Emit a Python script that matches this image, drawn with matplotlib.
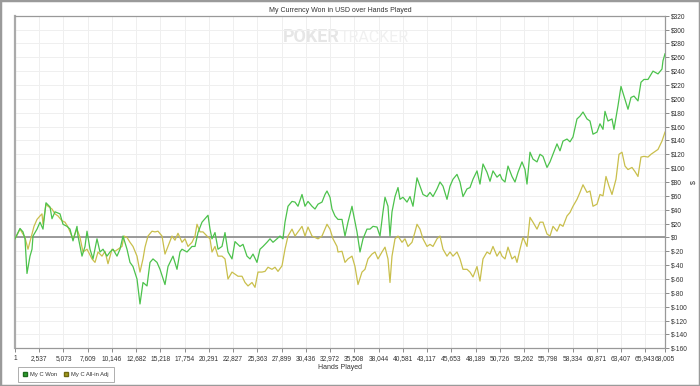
import matplotlib
matplotlib.use("Agg")
import matplotlib.pyplot as plt
from matplotlib.patches import Patch, Rectangle
from matplotlib.ticker import FuncFormatter

# Series (hands played, USD)
won_hands = [1, 524, 838, 1047, 1256, 1570, 1780, 1884, 2303, 2617, 2930, 3244,
             3663, 3872, 4186, 4709, 5023, 5441, 5755, 6069, 6487, 6592, 7011,
             7324, 7534, 7848, 8161, 8580, 8894, 9208, 9626, 9940, 10254, 10672,
             10986, 11300, 11718, 12032, 12346, 12765, 13078, 13392, 13811,
             14125, 14439, 14857, 15171, 15694, 16008, 16531, 16949, 17263,
             17473, 17996, 18519, 18833, 19146, 19565, 19879, 20193, 20402,
             20611, 20925, 21239, 21657, 21971, 22285, 22704, 23017, 23541,
             23855, 24273, 24587, 24901, 25319, 25633, 25947, 26365, 26679,
             26993, 27411, 27725, 28039, 28248, 28562, 28981, 29295, 29608,
             30027, 30341, 30655, 31073, 31387, 31701, 32119, 32433, 32642,
             32956, 33166, 33479, 33793, 34212, 34526, 34839, 35258, 35363,
             35781, 36095, 36409, 36827, 37141, 37455, 37874, 38187, 38501,
             38711, 39024, 39234, 39443, 39757, 40071, 40280, 40594, 41013,
             41326, 41640, 42059, 42372, 42686, 43105, 43418, 43732, 44151,
             44465, 44778, 45197, 45511, 45825, 46243, 46557, 46871, 47289,
             47603, 47917, 48335, 48649, 48963, 49382, 49696, 50009, 50428,
             50742, 50951, 51265, 51579, 51997, 52311, 52625, 53044, 53357,
             53567, 53880, 54194, 54613, 54927, 55240, 55659, 55973, 56287,
             56705, 57019, 57333, 57751, 58065, 58379, 58797, 59111, 59425,
             59844, 60157, 60471, 60890, 61204, 61518, 61727, 62041, 62459,
             62668, 63087, 63401, 63715, 64133, 64447, 64761, 65179, 65493,
             65807, 66225, 66748, 67272, 67690, 67795, 68005]
won_usd = [-2, 13, 8, -2, -52, -27, -17, 2, 12, 22, 12, 50,
           44, 27, 37, 34, 19, 16, 12, -5, 16, 2, -27,
           -13, 9, -17, -31, -2, -21, -17, -27, -21, -17, -27,
           -17, 2, -17, -36, -42, -60, -96, -65, -70,
           -36, -31, -36, -46, -68, -42, -27, -46, -21,
           -17, -21, -13, -13, 7, 22, 27, 32, 12,
           -2, 7, -17, -13, 7, -21, -31, -6, -13,
           -10, -27, -31, -24, -36, -17, -13, -7, -2,
           -7, -2, 2, -2, 22, 45, 52, 51, 45,
           62, 45, 52, 45, 41, 48, 51, 62, 67,
           58, 41, 31, 26, 26, 2, 22, 45, 37,
           8, -21, -2, 12, 12, 16, 15, 2, 37,
           58, 45, 2, 37, 59, 72, 55, 58, 51,
           59, 45, 86, 74, 62, 59, 65, 59, 70,
           80, 74, 55, 74, 84, 91, 80, 59, 70,
           72, 84, 96, 77, 106, 94, 81, 96, 87,
           91, 84, 80, 103, 88, 80, 94, 109, 98,
           77, 123, 113, 109, 120, 117, 101, 109, 120,
           135, 125, 139, 142, 138, 145, 171, 175, 181,
           171, 168, 149, 152, 164, 156, 182, 168, 171,
           156, 190, 218, 204, 185, 202, 204, 197, 224,
           228, 228, 240, 236, 243, 255, 265]

adj_hands = [1, 524, 1047, 1361, 1780, 1989, 2303, 2617, 2826, 2930, 3244, 3454,
             3872, 4186, 4500, 4918, 5232, 5546, 6069, 6487, 6801, 7115, 7534,
             8057, 8371, 8685, 9103, 9417, 9731, 10149, 10463, 10777, 11195,
             11405, 11718, 12032, 12346, 12765, 13078, 13392, 13602, 13915,
             14334, 14648, 14962, 15380, 15694, 16008, 16426, 16740, 17054,
             17473, 17786, 18100, 18519, 18833, 19042, 19356, 19670, 20088,
             20402, 20611, 20925, 21239, 21657, 21971, 22285, 22704, 23017,
             23331, 23750, 24064, 24378, 24796, 25110, 25424, 25842, 26156,
             26470, 26889, 27202, 27516, 27935, 28248, 28562, 28981, 29295,
             29608, 30027, 30341, 30655, 31073, 31387, 31701, 32119, 32642,
             32956, 33270, 33688, 33793, 34212, 34526, 34839, 35258, 35572,
             35886, 36304, 36618, 36932, 37350, 37664, 37978, 38396, 38711,
             39024, 39234, 39443, 39757, 40071, 40490, 40803, 41117, 41536,
             41850, 42059, 42372, 42686, 43105, 43418, 43732, 44151, 44465,
             44778, 45197, 45511, 45825, 46243, 46557, 46871, 47289, 47603,
             47917, 48335, 48649, 48963, 49382, 49696, 50009, 50428, 50742,
             50951, 51265, 51579, 51997, 52311, 52520, 52834, 53148, 53567,
             53880, 54194, 54613, 54927, 55240, 55659, 55973, 56287, 56705,
             57019, 57333, 57751, 58065, 58379, 58797, 59111, 59425, 59844,
             60157, 60471, 60890, 61204, 61518, 61832, 62146, 62459, 62878,
             63192, 63506, 63820, 64133, 64552, 64866, 65179, 65493, 65807,
             66225, 66539, 67272, 67690, 68005]
adj_usd = [-2, 12, 0, -17, 5, 16, 26, 31, 34, 19, 48, 45,
           41, 34, 31, 24, 22, 15, -2, 12, 0, -21, -17,
           -31, -36, -21, -27, -20, -38, -17, -20, -17, -13,
           2, 0, -7, -13, -27, -50, -31, -14, 2,
           9, 8, 9, 2, -24, -13, 2, -4, 6,
           -7, -2, -13, -7, 2, 19, 8, 8, 2,
           -2, -21, -13, -27, -27, -31, -60, -50, -53,
           -56, -56, -65, -70, -65, -72, -50, -50, -49,
           -43, -46, -43, -49, -41, -17, 2, 12, 2,
           8, 16, 2, 15, 2, 0, -2, 2, 19,
           12, -2, -13, -21, -20, -36, -31, -27, -42,
           -68, -50, -46, -31, -24, -21, -31, -21, -14,
           -31, -65, -27, -2, 2, -7, -2, -13, -7,
           8, 19, 12, -2, -13, -10, -13, -2, 2,
           -17, -27, -21, -27, -21, -31, -46, -46, -50,
           -57, -42, -63, -31, -21, -24, -13, -27, -20,
           -27, -31, -14, -31, -27, -36, -17, 0, -13,
           29, 22, 12, 22, 22, 5, 2, 16, 9,
           19, 16, 31, 36, 45, 55, 65, 76, 65,
           67, 45, 48, 62, 60, 88, 74, 62, 84,
           120, 123, 103, 98, 101, 95, 88, 116, 117,
           116, 120, 127, 139, 152]

x_ticks = [1, 2537, 5073, 7609, 10146, 12682, 15218, 17754, 20291, 22827,
           25363, 27899, 30436, 32972, 35508, 38044, 40581, 43117, 45653,
           48189, 50726, 53262, 55798, 58334, 60871, 63407, 65943, 68005]
y_ticks = list(range(-160, 321, 20))

green = '#4cc24c'
olive = '#c9bf4c'
txt = '#333333'

plt.rcParams['font.family'] = ['Liberation Sans', 'DejaVu Sans']

fig = plt.figure(figsize=(7.0, 3.86), dpi=100)
fig.patches.append(Rectangle((0, 0), 1, 1, transform=fig.transFigure,
                             fill=False, edgecolor='#9a9a9a', linewidth=2.5))

ax = fig.add_axes([15 / 700, 37.7 / 386, 650 / 700, 332.6 / 386])
ax.plot(adj_hands, adj_usd, color=olive, linewidth=0.9, zorder=3)
ax.plot(won_hands, won_usd, color=green, linewidth=0.9, zorder=4)
ax.axhline(0, color='#8a8a8a', linewidth=1.2, zorder=2)

ax.set_xlim(1, 68005)
ax.set_ylim(-160, 320)
ax.set_xticks(x_ticks)
ax.xaxis.set_major_formatter(FuncFormatter(lambda v, p: f'{int(round(v)):,}'))
ax.set_yticks(y_ticks)
ax.yaxis.set_major_formatter(FuncFormatter(lambda v, p: f'${int(v)}'))
ax.yaxis.tick_right()
ax.yaxis.set_label_position('right')
ax.tick_params(axis='both', labelsize=4.8, colors='#777777', labelcolor=txt,
               length=3, width=0.6, pad=1.5)
ax.grid(True, color='#efefef', linewidth=0.7, zorder=0)
for side, sp in ax.spines.items():
    sp.set_color('#999999')
    sp.set_linewidth(0.9)
ax.spines['left'].set_linewidth(1.6)
ax.spines['left'].set_color('#aaaaaa')

ax.set_xlabel('Hands Played', fontsize=5, color=txt, labelpad=2)
ax.set_ylabel('$', fontsize=5, color=txt, labelpad=2)
ax.set_title('My Currency Won in USD over Hands Played', fontsize=5,
             color=txt, pad=3)

# faint watermark
ax.text(0.5, 0.935, 'POKER', transform=ax.transAxes, fontsize=13,
        fontweight='bold', color='#e6e6e6', ha='right', va='center',
        family='Roboto', zorder=1)
ax.text(0.5, 0.935, 'TRACKER', transform=ax.transAxes, fontsize=11.5,
        color='#f0f0f0', ha='left', va='center', family='Roboto', zorder=1)

handles = [Patch(facecolor='#2e9e2e', edgecolor='#1d6b1d', label='My C Won'),
           Patch(facecolor='#a39b1c', edgecolor='#6e680f', label='My C All-in Adj')]
leg = fig.legend(handles=handles, loc='lower left',
                 bbox_to_anchor=(15 / 700, 1 / 386), ncol=2, fontsize=4.2,
                 frameon=True, fancybox=False, edgecolor='#999999',
                 handlelength=0.7, handleheight=0.7, handletextpad=0.5,
                 columnspacing=1.2, borderpad=0.9)
leg.get_frame().set_linewidth(0.7)
for t in leg.get_texts():
    t.set_color(txt)

fig.savefig('out.png', dpi=100)
